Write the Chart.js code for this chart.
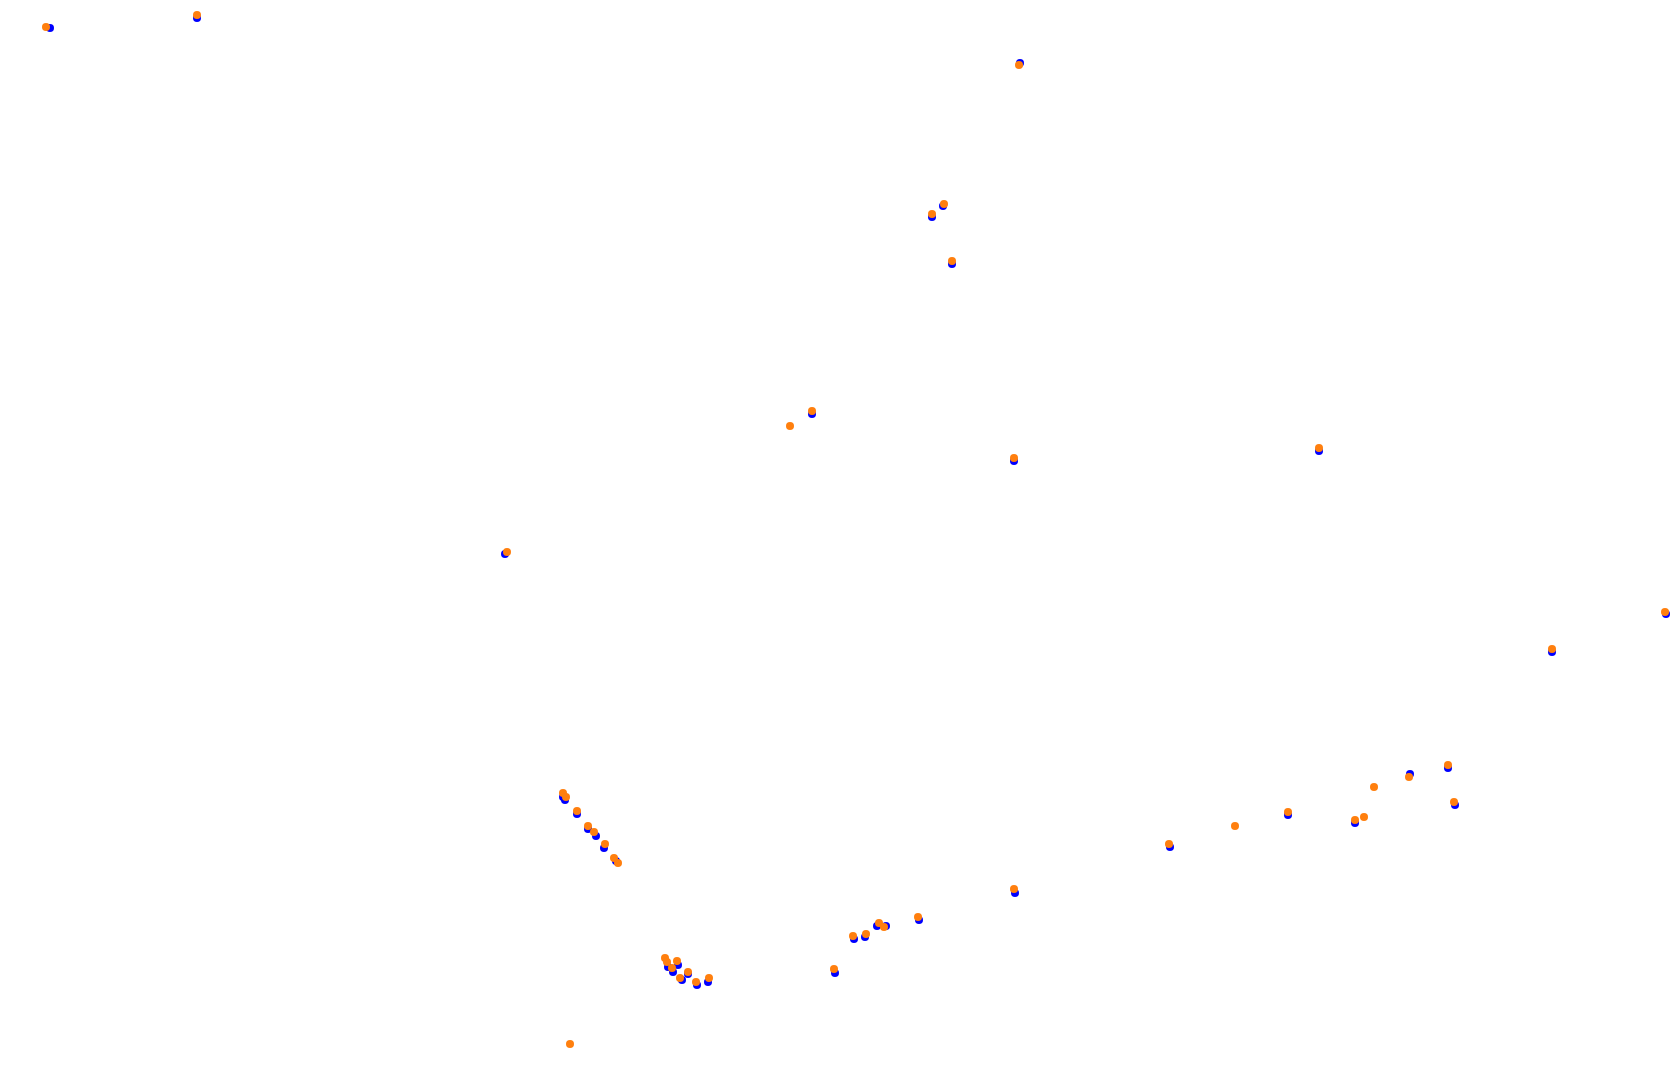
<!DOCTYPE html>
<html>
<head>
<meta charset="utf-8">
<script src="https://cdn.jsdelivr.net/npm/chart.js@4/dist/chart.umd.min.js"></script>
<style>
  html, body { margin: 0; padding: 0; background: #fff; }
  #wrap { width: 1680px; height: 1076px; }
</style>
</head>
<body>
<div id="wrap"><canvas id="chart"></canvas></div>
<script>
// ============================================================
// DATA — point positions (x right, y down)
// ============================================================
const blueX = [50, 197, 1020, 943, 932, 952, 812, 1014, 505, 1319,
  563, 565, 577, 588, 596, 604, 616,
  668, 678, 673, 682, 688, 697, 708,
  835, 854, 865, 877, 886, 919,
  1015, 1170, 1288, 1355, 1410, 1448, 1455, 1552, 1666];
const blueY = [28, 18, 63, 206, 217, 264, 414, 461, 554, 451,
  797, 800, 814, 829, 836, 848, 861,
  967, 965, 972, 980, 974, 985, 982,
  973, 939, 937, 926, 926, 920,
  893, 847, 815, 823, 774, 768, 805, 652, 614];

const orangeX = [46, 197, 1019, 944, 932, 952, 812, 790, 1014, 507, 1319,
  563, 566, 577, 588, 594, 605, 614, 618,
  665, 667, 677, 672, 680, 688, 696, 709,
  834, 853, 866, 879, 884, 918,
  1014, 1169, 1235, 1288, 1355, 1364, 1374, 1409, 1448, 1454, 1552, 1665, 570];
const orangeY = [27, 15, 65, 204, 214, 261, 411, 426, 458, 552, 448,
  793, 797, 811, 826, 832, 844, 858, 863,
  958, 962, 961, 968, 978, 972, 982, 978,
  969, 936, 934, 923, 927, 917,
  889, 844, 826, 812, 820, 817, 787, 777, 765, 802, 649, 612, 1044];

const xRange = [0, 1680];
const yRange = [0, 1076];

function pts(xs, ys) {
  return xs.map((x, i) => ({ x: x, y: ys[i] }));
}

// ============================================================
// CHART
// ============================================================
new Chart(document.getElementById('chart'), {
  type: 'scatter',
  data: {
    datasets: [
      { data: pts(blueX, blueY), backgroundColor: '#0000ff', borderWidth: 0, pointRadius: 4, order: 2 },
      { data: pts(orangeX, orangeY), backgroundColor: '#ff7f0e', borderWidth: 0, pointRadius: 4, order: 1 }
    ]
  },
  options: {
    responsive: true, maintainAspectRatio: false, animation: false,
    layout: { padding: 0, autoPadding: false },
    plugins: { legend: { display: false }, tooltip: { enabled: false } },
    scales: {
      x: { type: 'linear', min: xRange[0], max: xRange[1], display: false },
      y: { type: 'linear', min: yRange[0], max: yRange[1], reverse: true, display: false }
    }
  }
});
</script>
</body>
</html>
